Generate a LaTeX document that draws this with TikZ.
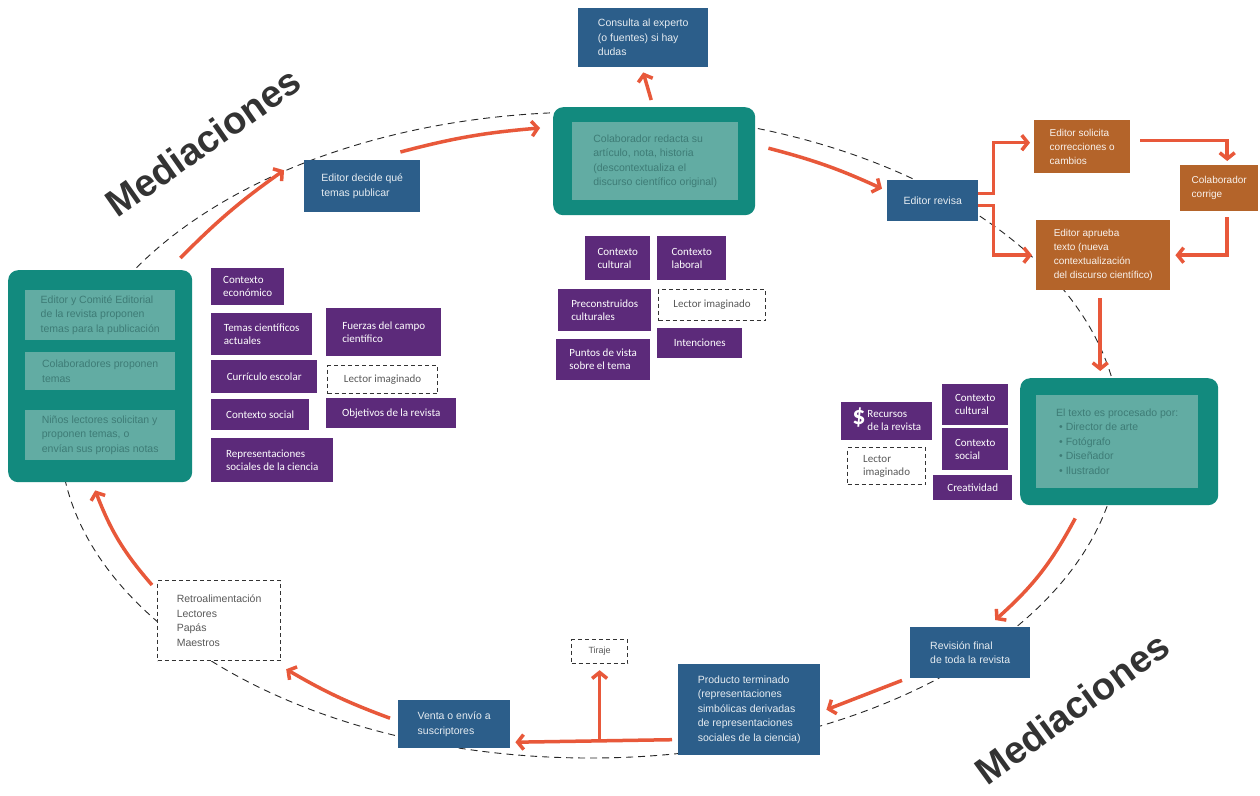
\documentclass[tikz,border=0pt]{standalone}
\usepackage{fontspec}
\setmainfont{Liberation Sans}
\newfontfamily\purplefont{Carlito}
\usetikzlibrary{arrows.meta}
\usetikzlibrary{calc}
\definecolor{boxblue}{RGB}{44,94,138}
\definecolor{tealdark}{RGB}{18,138,126}
\definecolor{teallight}{RGB}{98,172,163}
\definecolor{tealtext}{RGB}{62,124,118}
\definecolor{purplebox}{RGB}{92,42,122}
\definecolor{brownbox}{RGB}{180,100,42}
\definecolor{flowred}{RGB}{232,88,58}
\definecolor{medgray}{RGB}{51,51,51}
\newcommand{\mainsize}{\fontsize{10.5}{14.5}\selectfont}
\newcommand{\ctxsize}{\purplefont\fontsize{11}{13}\selectfont}
\tikzset{
  blockbase/.style={anchor=north west, inner xsep=6pt, inner ysep=3pt, align=left},
  wh/.style 2 args={minimum width=#1pt, minimum height=#2pt},
  bluebox/.style={blockbase, fill=boxblue, text=white!88!boxblue, font=\mainsize},
  brownblock/.style={blockbase, fill=brownbox, text=white!92!brownbox, font=\fontsize{10}{14}\selectfont},
  ctxbox/.style={blockbase, fill=purplebox, text=white, font=\ctxsize},
  dashbox/.style={blockbase, draw=black!80, line width=1.2pt, dash pattern=on 4pt off 3pt,
    fill=white, text=black!65, font=\ctxsize},
  tealouter/.style={anchor=north west, fill=tealdark, rounded corners=10pt, inner sep=0pt},
  tealinner/.style={blockbase, fill=teallight, text=tealtext, font=\mainsize},
  cycleline/.style={draw=black!85, line width=0.9pt, dash pattern=on 7pt off 5pt},
  flow/.style={draw=flowred, line width=3.5pt, -{Straight Barb[length=6pt,width=15pt]}},
  medi/.style={font=\fontsize{38}{38}\selectfont\bfseries, text=medgray},
}

\begin{document}
\begin{tikzpicture}[x=1pt,y=-1pt]
    \fill[white] (0,0) rectangle (1260,795);
    \useasboundingbox (0,0) rectangle (1260,795);
    % dashed cycle
    \draw[cycleline] (590,435) ellipse [x radius=530pt, y radius=323pt];
    % top part
    \node[bluebox, wh={130}{59}] (consulta) at (578,8) {Consulta al experto\\(o fuentes) si hay\\dudas};
    \node[tealouter, wh={202}{108}] (colab) at (553,107) {};
    \node[tealinner, wh={166}{78}] (colabtxt) at ([xshift=19pt,yshift=-15pt]colab.north west)
      {Colaborador redacta su\\artículo, nota, historia\\(descontextualiza el\\discurso científico original)};
    \node[bluebox, wh={116}{52}] (decide) at (304,160) {Editor decide qué\\temas publicar};
    % left part
    \node[tealouter, wh={184}{212}] (leftbox) at (8,270) {};
    \node[tealinner, wh={150}{50}] (propone) at ([xshift=17pt,yshift=-20pt]leftbox.north west)
      {Editor y Comité Editorial\\de la revista proponen\\temas para la publicación};
    \node[tealinner, wh={150}{38}] (colabprop) at ([xshift=17pt,yshift=-82pt]leftbox.north west)
      {Colaboradores proponen\\temas};
    \node[tealinner, wh={150}{50}] (ninos) at ([xshift=17pt,yshift=-140pt]leftbox.north west)
      {Niños lectores solicitan y\\proponen temas, o\\envían sus propias notas};
    \node[ctxbox, wh={73}{37}] (econ) at (211,268) {Contexto\\económico};
    \node[ctxbox, wh={101}{42}] (temas) at (211,313) {Temas científicos\\actuales};
    \node[ctxbox, wh={106}{33}] (curri) at (211,360) {Currículo escolar};
    \node[ctxbox, wh={98}{31}] (social) at (211,399) {Contexto social};
    \node[ctxbox, wh={122}{44}] (repres) at (211,438) {Representaciones\\sociales de la ciencia};
    \node[ctxbox, wh={115}{48}] (fuerzas) at (326,308) {Fuerzas del campo\\científico};
    \node[dashbox, wh={110}{28}] (lectorA) at (327,365) {Lector imaginado};
    \node[ctxbox, wh={130}{30}] (objet) at (326,398) {Objetivos de la revista};
    % center part
    \node[ctxbox, wh={65}{44}] (cultA) at (585,236) {Contexto\\cultural};
    \node[ctxbox, wh={69}{44}] (laboral) at (657,236) {Contexto\\laboral};
    \node[ctxbox, wh={93}{42}] (precon) at (558,289) {Preconstruidos\\culturales};
    \node[dashbox, wh={107}{31}] (lectorB) at (658,289) {Lector imaginado};
    \node[ctxbox, wh={94}{41}] (puntos) at (556,339) {Puntos de vista\\sobre el tema};
    \node[ctxbox, wh={85}{30}] (intenc) at (657,328) {Intenciones};
    % right part
    \node[bluebox, wh={91}{41}] (revisa) at (887,180) {Editor revisa};
    \node[brownblock, wh={96}{53}] (solicita) at (1034,120) {Editor solicita\\correcciones o\\cambios};
    \node[brownblock, wh={78}{46}] (corrige) at (1180,165) {Colaborador\\corrige};
    \node[brownblock, wh={134}{70}] (aprueba) at (1036,220)
      {Editor aprueba\\texto (nueva\\contextualización\\del discurso científico)};
    \node[tealouter, wh={198}{127}] (proc) at (1020,378) {};
    \node[tealinner, wh={162}{93}] (proctxt) at ([xshift=16pt,yshift=-17pt]proc.north west)
      {El texto es procesado por:\\\hspace{3pt}• Director de arte\\\hspace{3pt}• Fotógrafo\\\hspace{3pt}• Diseñador\\\hspace{3pt}• Ilustrador};
    \node[ctxbox, wh={91}{38}, inner xsep=4pt] (recursos) at (841,402)
      {{\fontsize{26}{26}\selectfont\bfseries\$}\hspace{2pt}{\begin{tabular}[c]{@{}l@{}}Recursos\\de la revista\end{tabular}}};
    \node[ctxbox, wh={66}{41}] (cultB) at (942,384) {Contexto\\cultural};
    \node[ctxbox, wh={66}{42}] (socialB) at (942,428) {Contexto\\social};
    \node[ctxbox, wh={79}{25}] (creat) at (933,475) {Creatividad};
    \node[dashbox, wh={78}{37}] (lectorC) at (847,447) {Lector\\imaginado};
    % bottom part
    \node[bluebox, wh={120}{51}] (final) at (910,627) {Revisión final\\de toda la revista};
    \node[bluebox, wh={142}{91}] (producto) at (678,664)
      {Producto terminado\\(representaciones\\simbólicas derivadas\\de representaciones\\sociales de la ciencia)};
    \node[dashbox, wh={56}{24}, font=\fontsize{9}{11}\selectfont] (tiraje) at (571,639) {Tiraje};
    \node[bluebox, wh={112}{48}] (venta) at (398,700) {Venta o envío a\\suscriptores};
    \node[dashbox, wh={123}{80}, font=\mainsize] (retro) at (157,580)
      {Retroalimentación\\Lectores\\Papás\\Maestros};
    % mediaciones
    \node[medi, rotate=35] (medA) at (203,142) {Mediaciones};
    \node[medi, rotate=36] (medB) at (1072,708) {Mediaciones};
    % arrows
    \draw[flow] ([xshift=-12pt,yshift=12pt]leftbox.north east) to[bend left=5] ([xshift=-20pt,yshift=16pt]decide.west);
    \draw[flow] ([xshift=-20pt,yshift=8pt]decide.north east) to[bend left=5] ([xshift=-13pt,yshift=-21pt]colab.north west);
    \draw[flow] ([xshift=-3pt,yshift=7pt]colab.north) -- ([yshift=-5pt]consulta.south);
    \draw[flow] ([xshift=13pt,yshift=13pt]colab.east) to[bend left=5] ([xshift=-5pt,yshift=12pt]revisa.west);
    \draw[flow] ([yshift=7pt]revisa.east) -- ++(15,0) |- ([xshift=-4pt,yshift=4pt]solicita.west);
    \draw[flow] ([yshift=-5pt]revisa.east) -- ++(15,0) |- ([xshift=-4pt]aprueba.west);
    \draw[flow] ([xshift=10pt,yshift=6pt]solicita.east) -| ([xshift=8pt,yshift=4pt]corrige.north);
    \draw[flow] ([xshift=8pt,yshift=-6pt]corrige.south) |- ([xshift=5pt]aprueba.east);
    \draw[flow] ([xshift=-3pt,yshift=-8pt]aprueba.south) -- ([xshift=-19pt,yshift=7pt]proc.north);
    \draw[flow] ([xshift=-44pt,yshift=-13pt]proc.south) to[bend left=10] ([xshift=25pt,yshift=7pt]final.north);
    \draw[flow] ([xshift=-8pt,yshift=-2pt]final.south west) -- ([xshift=6pt]producto.east);
    \coordinate (prodout) at ([xshift=-6pt,yshift=-30pt]producto.west);
    \draw[flow] (prodout) -- ([xshift=5pt,yshift=-18pt]venta.east);
    \draw[flow] (tiraje.south |- prodout) -- ([yshift=-6pt]tiraje.south);
    \draw[flow] ([xshift=-8pt,yshift=6pt]venta.west) to[bend left=5] ([xshift=5pt,yshift=-8pt]retro.south east);
    \draw[flow] ([xshift=-5pt,yshift=-5pt]retro.north west) to[bend left=10] ([xshift=-5pt,yshift=-8pt]leftbox.south);
\end{tikzpicture}
\end{document}
